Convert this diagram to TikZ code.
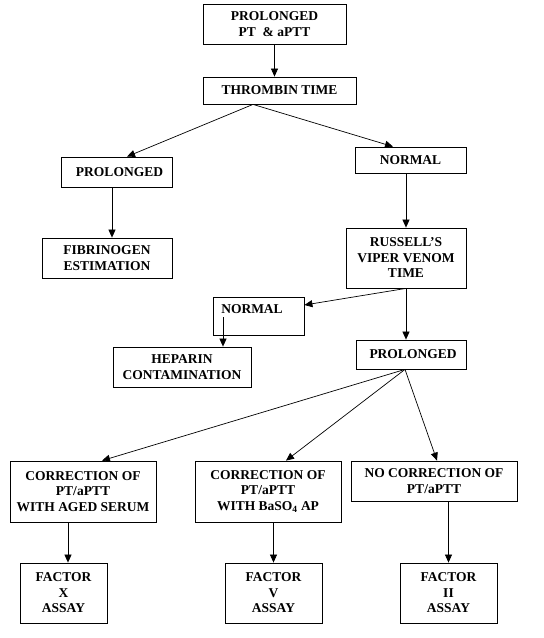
\documentclass[tikz,border=0pt]{standalone}
\usepackage{fontspec}
\setmainfont{Liberation Serif}
\usetikzlibrary{arrows.meta}
\begin{document}
\begin{tikzpicture}[x=1pt,y=-1pt,
  box/.style={draw, line width=0.8pt, align=center, inner sep=0pt,
    font=\bfseries\fontsize{13.5}{15.5}\selectfont},
  txt/.style={align=center, inner sep=0pt, font=\bfseries\fontsize{13.5}{15.5}\selectfont},
  arr/.style={line width=0.7pt, -{Triangle[length=8pt,width=7pt]}}]
\useasboundingbox (0,0) rectangle (544,638);
\node[box, minimum width=143pt, minimum height=40pt] (b1) at (274.5,24) {PROLONGED\\PT \ \& aPTT};
\node[box, minimum width=153pt, minimum height=27pt] (b2) at (279.5,90.5) {THROMBIN TIME};
\node[box, minimum width=111pt, minimum height=30pt] (p1) at (116.5,172) {\hspace*{6pt}PROLONGED};
\node[box, minimum width=111pt, minimum height=26pt] (n1) at (410.5,160) {NORMAL};
\node[box, minimum width=130pt, minimum height=40pt] (fib) at (107,258) {FIBRINOGEN\\ESTIMATION};
\node[box, minimum width=120pt, minimum height=60pt] (rvv) at (406,258) {RUSSELL’S\\VIPER VENOM\\TIME};
\node[box, minimum width=91pt, minimum height=38pt] (n2) at (258.5,316) {};
\node[txt] (n2t) at (252,309) {NORMAL};
\coordinate (n2s) at (223,317);
\node[box, minimum width=138pt, minimum height=40pt] (hep) at (182,367) {HEPARIN\\CONTAMINATION};
\node[box, minimum width=110pt, minimum height=29pt] (p2) at (411,354.5) {\hspace*{4pt}PROLONGED};
\node[box, minimum width=146pt, minimum height=61pt] (c1) at (83,491.5) {CORRECTION OF\\PT/aPTT\\WITH AGED SERUM};
\node[box, minimum width=146pt, minimum height=61pt] (c2) at (268,491.5) {CORRECTION OF\\PT/aPTT\\WITH BaSO\textsubscript{4} AP};
\node[box, minimum width=166pt, minimum height=40pt] (c3) at (434,481) {NO CORRECTION OF\\PT/aPTT};
\node[box, minimum width=87pt, minimum height=60pt] (f1) at (63.5,593) {FACTOR\\X\\ASSAY};
\node[box, minimum width=97pt, minimum height=60pt] (f2) at (273.5,593) {FACTOR\\V\\ASSAY};
\node[box, minimum width=97pt, minimum height=60pt] (f3) at (448.5,593) {FACTOR\\II\\ASSAY};
% connectors
\draw[arr] (b1.south) -- (b1.south |- b2.north);
\draw[arr] ([xshift=-26.5pt]b2.south) -- ([xshift=10.5pt]p1.north);
\draw[arr] ([xshift=-26.5pt]b2.south) -- ([xshift=-17.5pt]n1.north);
\draw[arr] ([xshift=-4.5pt]p1.south) -- ([xshift=5pt]fib.north);
\draw[arr] ([xshift=-4.5pt]n1.south) -- (rvv.north);
\draw[arr] (rvv.south) -- ([yshift=11pt]n2.east);
\draw[arr] (n2s) -- (n2s |- hep.north);
\draw[arr] (rvv.south) -- (rvv.south |- p2.north);
\draw[arr] ([xshift=-6pt]p2.south) -- ([xshift=19pt]c1.north);
\draw[arr] ([xshift=-6pt]p2.south) -- ([xshift=18pt]c2.north);
\draw[arr] ([xshift=-6pt]p2.south) -- ([xshift=3pt]c3.north);
\draw[arr] ([xshift=4.5pt]f1.north |- c1.south) -- ([xshift=4.5pt]f1.north);
\draw[arr] (f2.north |- c2.south) -- (f2.north);
\draw[arr] (f3.north |- c3.south) -- (f3.north);
\end{tikzpicture}
\end{document}
